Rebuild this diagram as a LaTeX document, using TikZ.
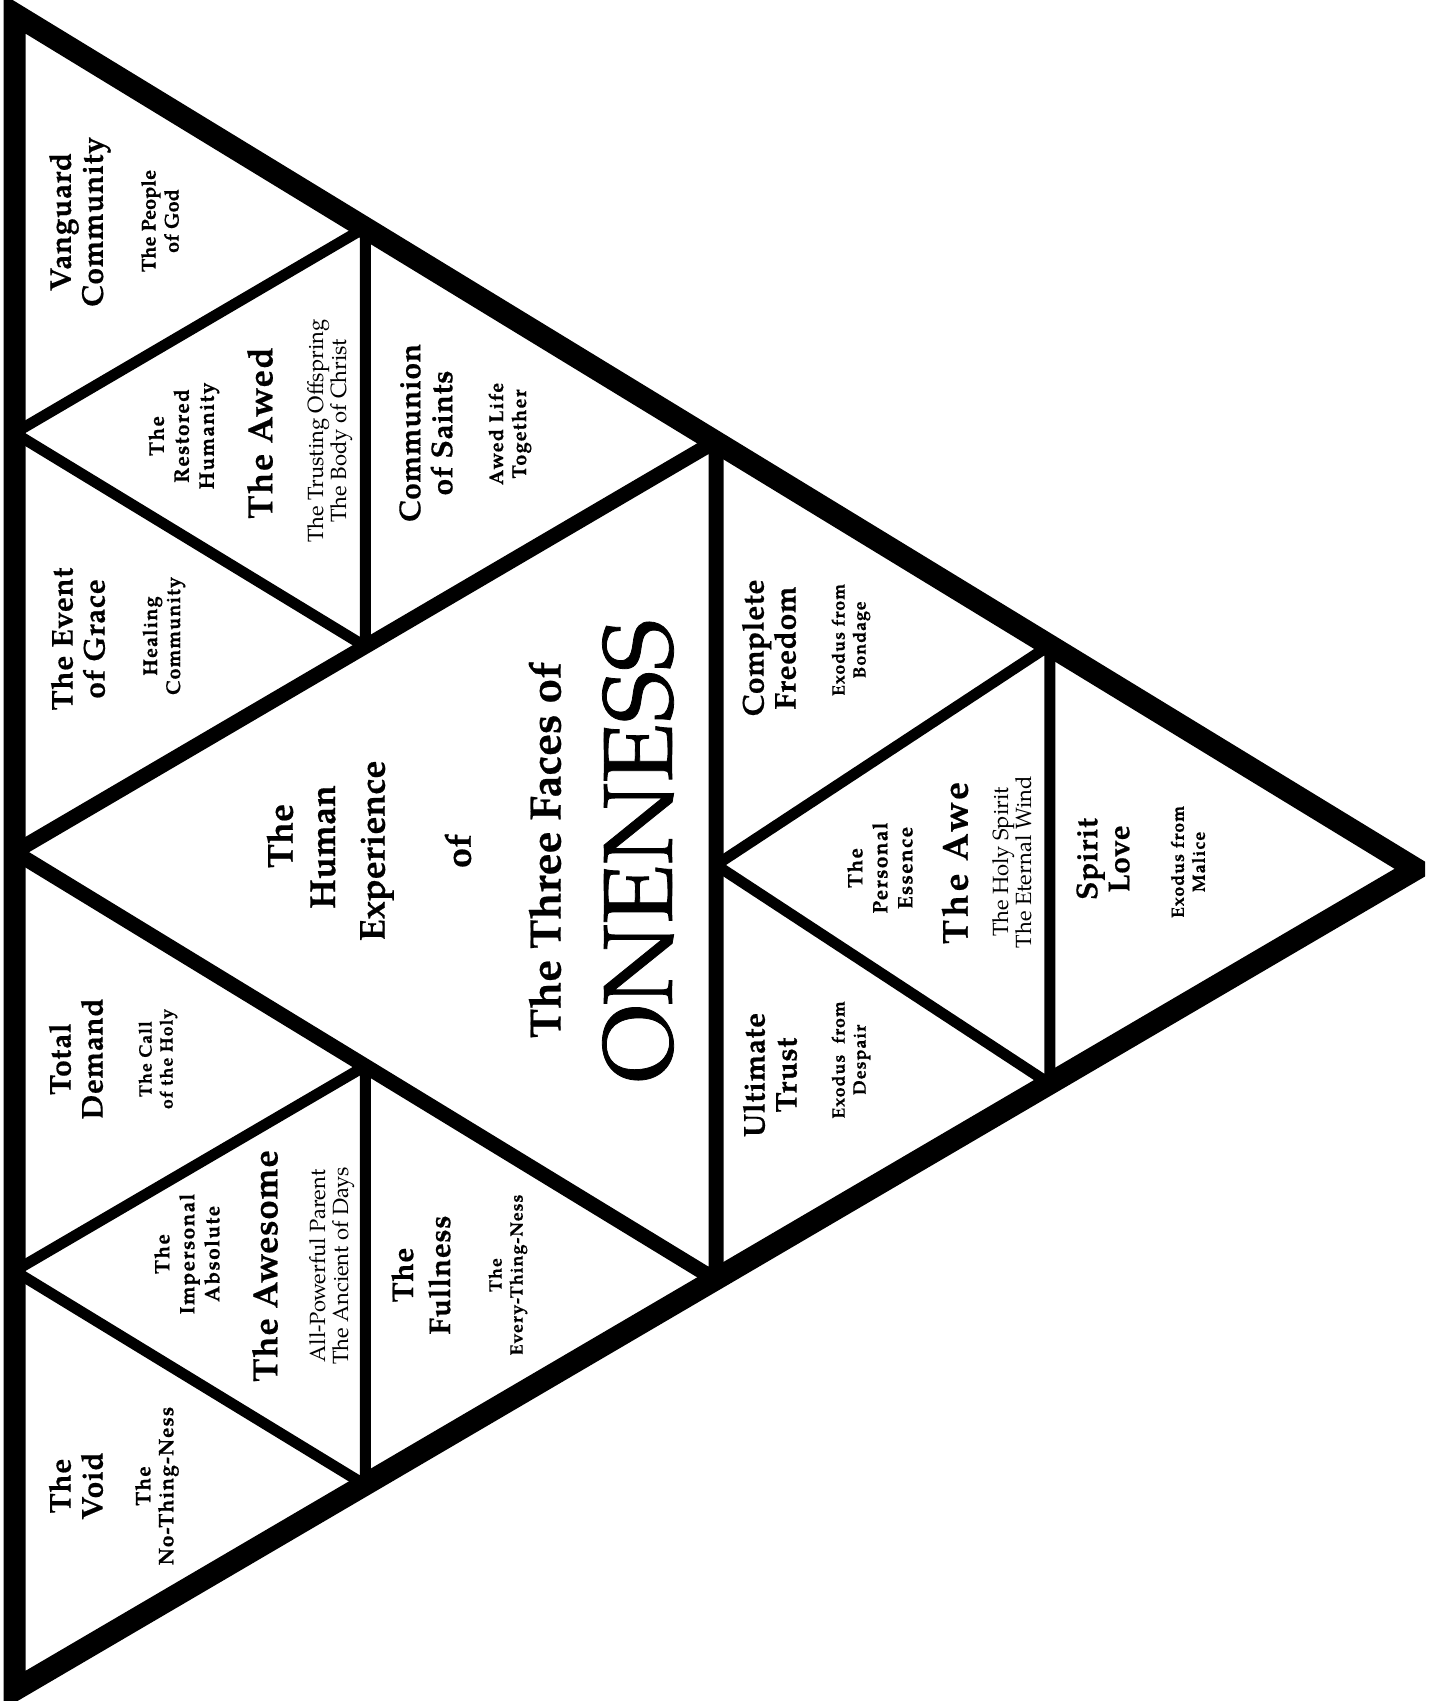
\documentclass[tikz,border=0pt]{standalone}
\usepackage{fontspec}
\setmainfont{TeX Gyre Pagella}[BoldFeatures={FakeBold=0.5}]
\usetikzlibrary{calc}
\begin{document}
\begin{tikzpicture}[x=1pt,y=-1pt,
  lbl/.style={rotate=90, align=center, inner sep=0pt},
  hd/.style={lbl, font=\fontsize{30}{32}\selectfont\bfseries\addfontfeature{LetterSpace=2}},
  bg/.style={lbl, font=\fontsize{35}{37}\selectfont\bfseries\addfontfeature{LetterSpace=4}},
  hx/.style={lbl, font=\fontsize{36}{38}\selectfont\bfseries},
  sb/.style={lbl, font=\fontsize{18}{21}\selectfont\bfseries\addfontfeature{LetterSpace=5}},
  sbt/.style={lbl, font=\fontsize{21}{25}\selectfont\bfseries\addfontfeature{LetterSpace=6}},
  sbn/.style={lbl, font=\fontsize{20}{23}\selectfont\bfseries},
  rg/.style={lbl, font=\fontsize{22}{23}\selectfont},
  outer/.style={line width=22pt, line join=miter},
  mid/.style={line width=15pt, line join=miter},
  inner/.style={line width=11pt, line join=miter}]
\useasboundingbox (0,0) rectangle (1434,1701);
% main vertices
\coordinate (A) at (14.5,14);
\coordinate (B) at (14.5,1690);
\coordinate (C) at (1416,869);
\coordinate (mAB) at (14.5,852);
\coordinate (mAC) at (716,441);
\coordinate (mBC) at (716,1280);
% top-left corner triangle
\coordinate (P1) at (14.5,433);
\coordinate (P2) at ($(A)!0.5!(mAC)$);
\coordinate (P3) at ($(mAB)!0.5!(mAC)$);
% bottom-left corner triangle
\coordinate (Q1) at (14.5,1271);
\coordinate (Q2) at ($(mAB)!0.5!(mBC)$);
\coordinate (Q3) at ($(B)!0.5!(mBC)$);
% right corner triangle
\coordinate (R1) at (716,865);
\coordinate (R2) at ($(mAC)!0.477!(C)$);
\coordinate (R3) at ($(mBC)!0.477!(C)$);
\begin{scope}
\clip (A) -- (mAB) -- (mAC) -- cycle;
\draw[inner] (P1) -- (P2) -- (P3) -- cycle;
\end{scope}
\begin{scope}
\clip (mAB) -- (B) -- (mBC) -- cycle;
\draw[inner] (Q1) -- (Q2) -- (Q3) -- cycle;
\end{scope}
\begin{scope}
\clip (mAC) -- (mBC) -- (C) -- cycle;
\draw[inner] (R1) -- (R2) -- (R3) -- cycle;
\end{scope}
\begin{scope}
\clip (A) -- (B) -- (C) -- cycle;
\draw[mid] (mAB) -- (mAC) -- (mBC) -- cycle;
\end{scope}
\begin{scope}
\clip (0,0) rectangle (1425,1701);
\draw[outer] (A) -- (B) -- (C) -- cycle;
\end{scope}
% top-left corner
\node[hd] (n1) at (80,222) {Vanguard\\Community};
\node[sbn] (n2) at (160,221) {The People\\of God};
\node[sbt] (n3) at (184,436) {The\\Restored\\Humanity};
\node[bg] (n4) at (260,433) {The Awed};
\node[rg] (n5) at (330,431) {The Trusting Offspring\\The Body of Christ};
\node[hd] (n6) at (426,433) {Communion\\of Saints};
\node[sb, font=\fontsize{20}{23}\selectfont\bfseries\addfontfeature{LetterSpace=6}] (n7) at (510,434) {Awed Life\\Together};
\node[hd] (n8) at (78,639) {The Event\\of Grace};
\node[sb, font=\fontsize{20}{23}\selectfont\bfseries\addfontfeature{LetterSpace=5}] (n9) at (164,636) {Healing\\Community};
% centre
\node[hx] (n10) at (280,836) {The};
\node[hx] (n11) at (323,847) {Human};
\node[hx] (n12) at (377,851) {Experience};
\node[hx] (n13) at (458,851) {of};
\node[lbl, font=\fontsize{44}{46}\selectfont\bfseries] (n14) at (545,850) {The Three Faces of};
\node[lbl, font=\fontsize{98}{100}\selectfont\addfontfeature{FakeBold=0.8}] (n15) at (638,851) {ONENESS};
% right corner
\node[hd] (n16) at (769,648) {Complete\\Freedom};
\node[sb] (n17) at (851,640) {Exodus from\\Bondage};
\node[sbt] (n18) at (880,868) {The\\Personal\\Essence};
\node[bg, font=\fontsize{36}{38}\selectfont\bfseries\addfontfeature{LetterSpace=9}] (n19) at (955,863) {The Awe};
\node[rg] (n20) at (1012,862) {The Holy Spirit\\The Eternal Wind};
\node[hd] (n21) at (770,1075) {Ultimate\\Trust};
\node[sb] (n22) at (851,1060) {Exodus\ \ from\\Despair};
\node[hd] (n23) at (1103,859) {Spirit\\Love};
\node[sb] (n24) at (1188,862) {Exodus from\\Malice};
% bottom-left corner
\node[hd] (n25) at (76,1059) {Total\\Demand};
\node[sb] (n26) at (158,1059) {The Call\\of the Holy};
\node[sbt] (n27) at (187,1254) {The\\Impersonal\\Absolute};
\node[bg, font=\fontsize{35}{37}\selectfont\bfseries\addfontfeature{LetterSpace=2}] (n28) at (265,1266) {The Awesome};
\node[rg] (n29) at (332,1266) {All-Powerful Parent\\The Ancient of Days};
\node[hd] (n30) at (421,1275) {The\\[5pt]Fullness};
\node[sb] (n31) at (508,1275) {The\\Every-Thing-Ness};
\node[hd] (n32) at (76,1486) {The\\Void};
\node[sb, font=\fontsize{21}{23}\selectfont\bfseries\addfontfeature{LetterSpace=5}] (n33) at (157,1486) {The\\No-Thing-Ness};
\end{tikzpicture}
\end{document}
